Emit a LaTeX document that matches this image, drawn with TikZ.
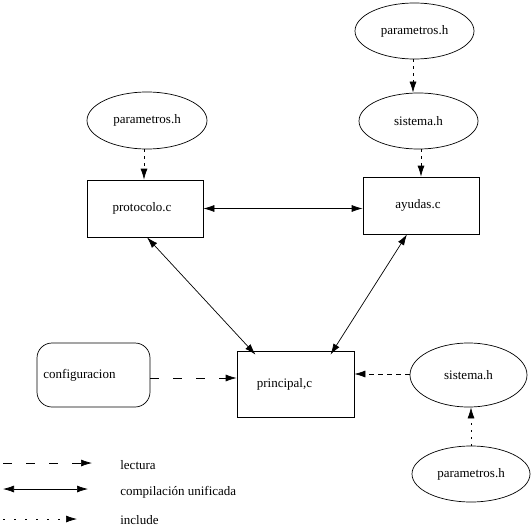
\documentclass[tikz,border=0pt]{standalone}
\usepackage{fontspec}
\setmainfont{Liberation Serif}
\usetikzlibrary{shapes.geometric,arrows.meta,calc}
\begin{document}
\begin{tikzpicture}[x=1pt,y=-1pt,
  font=\fontsize{13pt}{15pt}\selectfont,
  line width=0.7pt,
  hdr/.style={draw,ellipse,inner sep=0pt,minimum width=119pt,minimum height=56pt},
  filebox/.style={draw,rectangle,inner sep=0pt},
  tip/.style={-{Latex[length=11pt,width=7pt]}},
  dtip/.style={{Latex[length=11pt,width=7pt]}-{Latex[length=11pt,width=7pt]}},
  lect/.style={tip,dash pattern=on 9pt off 14pt},
  incl/.style={tip,dash pattern=on 3pt off 4pt},
  comp/.style={dtip}]
\useasboundingbox (0,0) rectangle (532,532);
% nodes
\node[hdr] (p2) at (414.5,31) {parametros.h};
\node[hdr] (s1) at (418.5,121) {sistema.h};
\node[filebox,minimum width=116pt,minimum height=57pt] (ayud) at (421,205.5) {ayudas.c\kern6pt};
\node[hdr,minimum width=120pt,minimum height=57pt] (p1) at (147,120.5) {parametros.h};
\node[filebox,minimum width=116pt,minimum height=57pt] (proto) at (145,208.5) {protocolo.c\kern6pt};
\node[draw,rectangle,rounded corners=15pt,inner sep=0pt,minimum width=113pt,minimum height=64pt] (conf) at (93.5,375) {configuracion\kern28pt};
\node[filebox,minimum width=117pt,minimum height=66pt] (princ) at (295.5,384) {principal,c\kern22pt};
\node[hdr,minimum width=117pt,minimum height=64pt] (s2) at (468.5,375) {sistema.h};
\node[hdr,minimum width=118pt,minimum height=56pt] (p3) at (471,474) {parametros.h};
% connectors
\draw[incl] ([xshift=-1.5pt]p2.south) -- ([xshift=-1.5pt]p2.south |- s1.north);
\draw[incl] ([xshift=2.5pt]s1.south) -- ([xshift=2.5pt]s1.south |- ayud.north);
\draw[incl] ([xshift=-3pt]p1.south) -- ([xshift=-3pt]p1.south |- proto.north);
\draw[comp] (proto.east) -- (proto.east -| ayud.west);
\draw[comp] ([xshift=2pt]proto.south) -- ([xshift=-40pt,yshift=-4pt]princ.north);
\draw[comp] ([xshift=-14pt]ayud.south) -- ([xshift=35pt,yshift=-4pt]princ.north);
\draw[lect] ([yshift=-3pt]conf.east) -- ([yshift=-3pt]conf.east -| princ.west);
\draw[tip,dash pattern=on 5pt off 4pt] ([yshift=1pt]s2.west) -- ([yshift=1pt]s2.west -| princ.east);
\draw[incl,dash pattern=on 2pt off 5pt] (p3.north) -- (p3.north |- s2.south);
% legend
\coordinate (la) at (3,463);
\coordinate (lb) at (92,463);
\coordinate (ca) at (3,489);
\coordinate (cb) at (88,489);
\coordinate (ia) at (3,519);
\coordinate (ib) at (77,519);
\draw[lect] (la) -- (lb);
\draw[comp] (ca) -- (cb);
\draw[incl,dash pattern=on 2pt off 9pt] (ia) -- (ib);
\node[anchor=west,inner sep=0pt] (t1) at (120,465) {lectura};
\node[anchor=west,inner sep=0pt] (t2) at (120,492) {compilación unificada};
\node[anchor=west,inner sep=0pt] (t3) at (120,520) {include};
\end{tikzpicture}
\end{document}
